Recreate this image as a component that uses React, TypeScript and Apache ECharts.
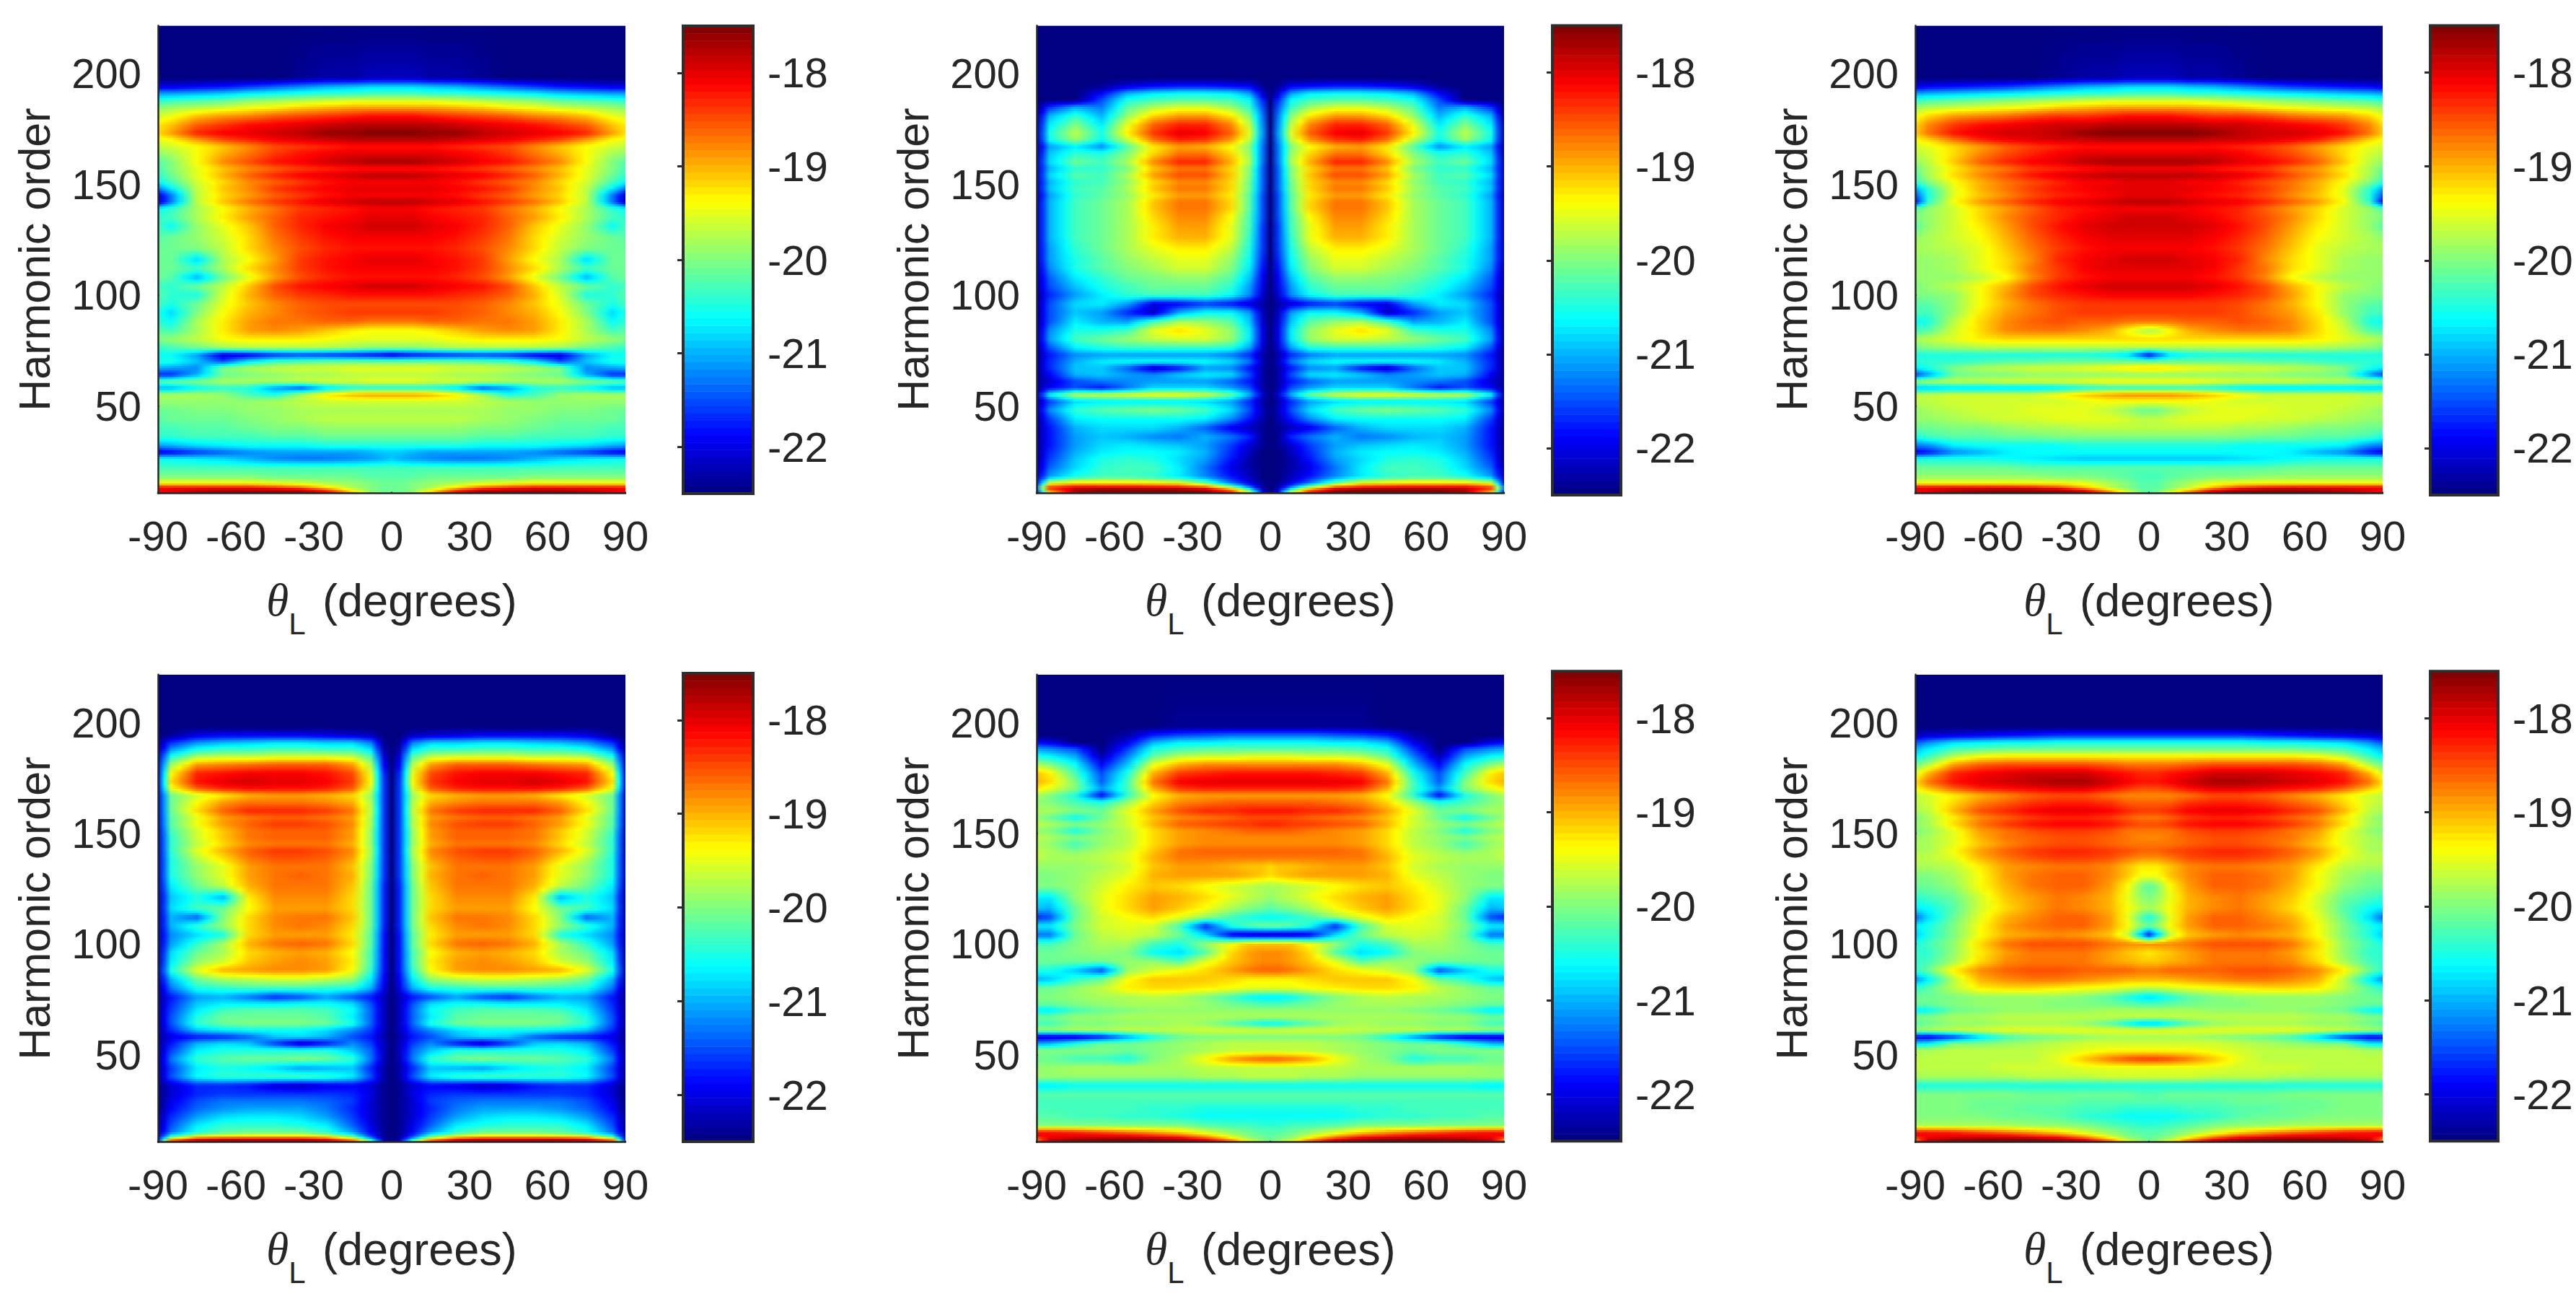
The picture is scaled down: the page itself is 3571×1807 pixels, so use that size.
import React, { useEffect, useRef } from "react";
import * as echarts from "echarts";

// Colour axis
const CMIN = -22.5;
const CMAX = -17.5;
const CB_TICKS = [-22, -21, -20, -19, -18];
const Y_TICKS = [50, 100, 150, 200];
const Y_MIN = 10.5;
const Y_MAX = 221.6;
// Half-plane angles (degrees) of each column; the maps are mirrored about 0
const THETAS = [0, 3, 8, 15, 25, 35, 45, 55, 65, 75, 85, 90];
const ORDERS = [221.6,198,194,191,188,185,181,177,173,170,167,164,160,157,154,151,148,145,142,139,135,131,126,121,116,112,108,104,100,96,92,88,84,80,76,73,70,67,64,61,58,55,52,48,44,40,36,32,29,26,22,18,15,13,12,10.5];
// Cell values: tenths above CMIN, one row per order, one column per angle
const PANEL_A = [
[0,0,0,0,0,0,0,0,0,0,0,0],[3,3,3,2,2,1,0,0,0,0,0,0],[17,17,17,16,15,13,11,9,7,6,5,5],[22,22,22,21,21,20,19,18,16,15,14,14],[29,29,29,29,28,27,26,25,23,22,21,20],[35,35,35,35,34,33,31,30,28,27,26,25],[43,43,43,42,41,40,39,37,36,34,30,29],[47,47,47,47,46,45,44,43,41,39,34,32],[50,50,50,49,49,47,46,45,44,42,36,33],[47,47,47,47,46,45,44,42,40,36,31,30],[43,43,43,43,42,41,40,37,34,31,29,28],[45,45,45,45,44,43,41,38,35,31,27,26],[48,48,48,47,46,44,43,40,37,31,25,23],[43,43,43,43,42,41,39,37,34,30,25,22],[47,47,47,46,45,44,42,39,35,30,24,21],[44,44,44,44,43,41,39,37,33,29,22,19],[45,45,45,45,44,43,41,37,34,28,18,12],[44,44,44,44,43,41,39,36,33,28,12,4],[47,47,47,46,45,43,41,38,34,28,12,3],[44,44,44,43,42,41,38,35,31,27,21,19],[45,45,45,44,43,42,39,36,32,27,22,21],[46,46,46,45,44,42,39,34,30,26,19,22],[44,44,44,44,43,41,38,33,29,26,24,23],[43,43,43,43,42,40,37,33,28,25,24,24],[45,45,45,44,43,41,36,31,27,17,24,24],[44,44,44,44,43,41,37,33,27,22,24,24],[43,43,43,43,42,40,36,30,24,15,23,24],[46,46,46,45,44,43,40,34,28,24,21,22],[43,43,43,43,42,41,39,35,29,20,21,23],[40,40,40,40,40,39,37,34,30,24,20,22],[41,41,41,41,40,39,37,35,31,25,17,20],[38,38,38,39,39,38,38,36,32,27,19,21],[31,31,31,32,34,36,37,36,32,27,22,23],[30,30,30,30,31,32,32,32,31,28,26,25],[25,25,25,26,27,27,27,27,26,24,22,21],[4,5,6,7,8,9,8,5,4,14,19,19],[24,24,24,24,24,23,22,18,10,16,20,20],[30,30,30,30,29,29,28,27,25,13,14,15],[28,28,28,28,27,27,26,25,24,15,8,8],[30,30,30,29,29,28,27,27,27,25,24,23],[20,20,20,20,17,10,14,20,21,19,15,15],[36,36,36,35,32,27,20,22,26,27,27,27],[29,29,29,29,29,28,27,26,26,26,26,26],[27,27,27,27,27,27,26,26,25,25,24,24],[28,28,28,28,28,27,26,25,24,24,24,23],[26,26,26,26,26,25,25,24,23,23,22,22],[24,24,24,24,24,23,23,22,22,22,21,21],[20,20,20,20,20,19,19,19,18,17,15,14],[16,16,15,14,14,14,14,13,11,9,6,5],[16,15,14,13,12,12,13,15,17,18,19,19],[22,22,22,22,22,22,22,22,22,22,22,22],[23,23,23,24,24,24,24,25,25,25,25,25],[24,24,25,26,27,29,30,31,31,31,31,31],[24,24,25,27,33,39,42,44,44,44,44,44],[24,24,25,30,40,46,47,47,47,46,45,44],[24,24,26,36,47,50,50,50,50,49,45,44],
];
const PANEL_B = [
[0,0,0,0,0,0,0,0,0,0,0,0],[0,0,0,0,0,0,0,0,0,0,0,0],[0,1,6,7,8,8,7,5,1,0,0,0],[0,4,14,18,19,19,18,15,6,0,0,0],[0,8,19,22,23,23,22,20,10,0,0,0],[0,10,21,26,29,29,27,23,12,14,8,0],[0,12,25,32,36,36,33,26,15,21,15,1],[0,13,28,37,42,42,39,30,18,25,18,2],[0,14,30,39,44,45,41,32,20,28,20,2],[0,13,28,36,41,42,38,28,19,26,19,2],[0,12,25,31,35,36,32,23,13,18,14,1],[0,12,26,33,38,38,33,25,20,21,16,2],[0,12,27,35,42,42,37,27,22,24,17,3],[0,11,25,33,38,38,34,25,21,21,15,3],[0,11,25,34,40,40,36,27,22,23,17,3],[0,11,24,33,37,37,33,26,22,21,15,3],[0,11,24,33,38,38,34,27,23,22,16,3],[0,10,23,32,36,36,32,26,23,21,14,2],[0,10,23,33,38,38,34,27,24,22,15,3],[0,10,23,33,38,38,34,27,24,22,15,3],[0,10,22,31,37,37,33,27,24,22,15,3],[0,9,22,30,36,36,32,27,24,22,15,3],[0,9,21,30,35,35,32,27,24,22,15,3],[0,9,20,28,32,32,30,27,24,21,14,3],[0,8,19,26,30,30,28,26,23,20,14,3],[0,7,18,25,29,29,27,25,23,20,13,2],[0,6,16,23,26,26,25,24,21,18,11,2],[0,5,14,21,24,24,24,22,20,16,10,2],[0,4,13,19,22,22,22,21,18,14,8,1],[0,2,4,7,9,6,5,14,18,17,10,1],[0,3,14,19,19,15,3,8,14,16,10,1],[0,4,16,23,26,27,22,14,15,18,10,1],[0,5,18,26,30,33,30,22,20,20,13,1],[0,5,18,26,29,29,28,26,24,22,14,1],[0,4,14,20,21,21,21,21,20,18,10,1],[0,2,8,12,14,14,14,14,14,13,7,1],[0,3,12,17,19,19,19,19,18,15,8,1],[0,2,7,13,14,7,3,11,16,16,8,1],[0,2,10,17,18,16,13,14,16,15,6,1],[0,2,7,11,14,14,14,13,12,10,4,1],[0,2,10,14,17,17,17,12,7,10,6,1],[0,4,15,24,29,31,31,30,29,28,19,2],[0,2,8,14,17,18,18,18,18,17,9,1],[0,3,10,17,22,24,25,24,23,21,13,2],[0,2,7,13,18,19,19,19,19,18,9,1],[0,1,3,5,11,15,17,17,17,15,7,1],[0,1,8,12,15,12,13,15,16,14,7,1],[0,1,4,9,14,16,17,18,17,14,7,1],[0,0,3,8,15,18,19,19,18,15,8,1],[0,0,2,7,14,17,20,21,20,16,9,1],[0,0,2,5,12,18,22,22,21,17,11,2],[0,0,3,7,13,18,21,22,22,20,14,3],[0,1,5,12,24,31,32,33,33,33,30,6],[0,2,14,29,42,45,46,46,46,46,42,14],[0,3,22,38,48,50,50,50,50,48,38,10],[0,7,30,44,50,50,50,50,50,48,32,6],
];
const PANEL_C = [
[0,0,0,0,0,0,0,0,0,0,0,0],[3,3,3,2,2,1,0,0,0,0,0,0],[17,17,17,16,15,13,11,9,8,7,6,5],[22,22,22,21,21,20,19,18,17,16,15,14],[29,29,29,29,28,27,26,25,24,23,22,21],[35,35,35,35,34,33,31,30,29,28,27,26],[43,43,43,42,41,41,40,38,37,36,33,30],[47,47,47,47,46,46,45,44,43,41,37,33],[50,50,50,50,49,47,46,46,45,43,38,34],[47,47,47,47,46,46,45,44,42,38,33,31],[43,43,43,43,43,42,41,39,36,33,30,29],[45,45,45,45,45,44,42,40,37,33,29,28],[48,48,48,48,47,45,44,42,39,34,28,26],[44,44,44,44,43,42,41,38,36,32,27,24],[47,47,47,47,46,45,43,40,37,33,27,23],[45,45,45,44,44,42,40,38,35,31,25,21],[45,45,45,45,44,43,41,38,35,30,21,14],[45,45,45,44,43,42,40,37,34,30,20,10],[47,47,47,46,45,44,42,39,36,31,21,6],[44,44,44,44,43,42,39,36,33,29,26,23],[46,46,46,45,44,42,40,37,33,29,26,25],[46,46,46,46,45,43,40,36,32,29,26,23],[45,45,45,45,44,42,39,35,31,29,27,26],[44,44,44,44,43,41,38,34,30,28,27,27],[46,46,46,45,44,42,37,33,30,27,26,26],[45,45,45,45,44,41,38,33,30,27,26,26],[44,44,44,44,43,41,37,31,28,26,26,26],[46,46,46,46,45,43,40,35,31,28,26,25],[44,44,44,44,43,42,40,36,31,26,25,25],[41,41,41,41,41,40,38,35,31,26,23,23],[41,41,41,41,41,40,38,36,32,26,22,22],[38,38,38,39,39,40,39,37,33,28,20,19],[27,28,31,35,37,38,38,37,33,29,23,22],[33,33,33,33,33,33,33,33,32,30,28,27],[27,27,27,27,27,27,27,27,27,26,25,24],[6,10,17,19,20,20,20,20,20,20,20,20],[24,24,24,24,24,24,23,23,22,21,21,21],[33,33,32,31,30,29,29,28,27,25,20,18],[26,26,26,26,26,26,26,25,25,24,14,9],[31,31,31,31,30,29,29,29,28,28,27,26],[21,21,21,21,20,18,17,17,17,17,16,16],[37,37,37,36,34,31,29,29,29,29,28,28],[31,31,31,31,30,29,29,29,29,29,28,28],[24,24,26,28,30,30,30,29,29,28,27,26],[28,28,29,30,30,30,29,29,28,27,26,26],[28,28,28,28,28,27,27,26,25,25,24,24],[25,25,25,25,25,25,24,24,23,23,22,20],[20,20,20,20,20,19,19,19,19,18,13,12],[19,19,19,19,19,19,19,18,15,13,7,5],[16,16,16,16,16,17,18,19,20,20,20,20],[23,23,23,23,23,23,23,24,24,24,24,24],[22,22,23,24,25,25,26,26,26,26,26,26],[23,23,25,27,30,31,31,31,31,31,31,31],[23,23,25,28,35,41,44,45,45,45,45,45],[23,24,27,33,43,48,49,49,48,47,45,44],[23,24,30,40,49,50,50,50,50,49,46,44],
];
const PANEL_D = [
[0,0,0,0,0,0,0,0,0,0,0,0],[0,0,0,0,0,0,0,0,0,0,0,0],[0,0,3,4,5,6,6,6,6,5,1,0],[0,1,12,16,16,17,17,16,15,13,8,0],[0,2,17,21,21,22,22,21,21,19,13,1],[0,4,22,27,28,28,28,27,27,26,19,3],[0,6,27,36,39,39,39,38,37,36,26,4],[0,8,30,40,43,44,44,44,43,42,31,5],[0,9,31,41,44,45,45,46,45,43,33,6],[0,9,29,39,42,43,43,43,42,39,30,5],[0,9,26,33,35,36,36,35,32,29,24,4],[0,9,27,35,37,38,38,38,36,31,24,4],[0,9,28,38,41,42,42,42,39,33,24,4],[0,9,27,36,38,39,39,38,36,30,23,4],[0,9,27,37,40,41,41,39,36,31,23,4],[0,9,26,36,39,39,39,38,34,29,22,3],[0,9,26,36,39,39,39,38,34,29,21,3],[0,9,26,35,38,38,38,37,33,28,21,3],[0,9,27,37,40,41,41,39,35,30,21,3],[0,9,26,36,39,40,40,38,33,28,20,3],[0,9,25,34,38,38,38,36,30,26,20,3],[0,9,25,35,38,39,38,36,30,26,20,3],[0,8,24,34,38,38,38,35,28,24,18,3],[0,8,24,33,37,37,37,32,15,20,16,2],[0,8,24,33,36,36,36,31,24,22,17,2],[0,8,24,34,38,38,37,33,25,11,15,2],[0,8,24,33,37,38,37,33,26,21,15,2],[0,7,23,32,36,36,36,33,20,17,13,2],[0,7,23,33,38,39,38,35,27,21,14,2],[0,7,22,31,35,36,35,33,27,24,17,2],[0,7,22,32,36,37,36,34,29,26,18,2],[0,7,21,31,36,37,37,36,35,30,20,3],[0,6,18,26,28,29,29,28,27,24,15,2],[0,5,15,20,21,22,22,22,21,20,12,1],[0,3,7,10,14,10,8,12,15,14,7,1],[0,3,10,17,19,19,18,18,18,16,8,1],[0,3,11,19,22,23,23,23,22,18,9,1],[0,3,11,18,23,24,24,24,24,20,10,1],[0,3,11,20,24,25,25,25,24,21,10,1],[0,3,9,13,17,19,19,19,18,16,8,1],[0,2,7,10,15,17,16,11,8,7,5,1],[0,3,9,13,7,3,9,16,17,15,7,1],[0,3,11,16,20,20,20,20,20,18,9,1],[0,3,12,21,24,25,24,24,23,21,12,1],[0,2,8,16,15,14,17,19,20,18,9,1],[0,2,10,18,21,22,22,21,21,19,10,1],[0,1,4,6,5,3,4,7,8,8,4,0],[0,1,5,8,9,9,9,9,9,8,4,0],[0,1,4,9,11,12,12,12,12,10,5,0],[0,1,4,8,12,14,14,14,13,11,6,0],[0,1,4,9,14,17,18,18,17,14,8,1],[0,1,5,11,18,20,21,21,21,18,10,1],[0,1,6,14,21,24,24,24,23,20,12,2],[0,1,9,23,30,33,33,33,32,30,20,3],[0,2,16,33,42,45,45,45,45,43,33,6],[0,3,27,44,50,50,50,50,50,50,45,10],
];
const PANEL_E = [
[0,0,0,0,0,0,0,0,0,0,0,0],[1,1,1,1,1,1,0,0,0,0,0,0],[12,12,12,12,11,10,8,2,0,0,0,0],[19,19,19,19,18,18,15,5,0,0,5,6],[23,23,23,23,23,22,20,9,0,10,13,14],[29,29,29,28,28,27,23,12,2,14,18,19],[37,37,37,37,37,35,30,16,6,19,25,27],[43,43,43,43,42,41,35,20,10,22,32,34],[45,45,45,45,45,44,38,22,11,25,33,35],[42,42,42,42,42,41,35,22,14,25,30,32],[36,36,36,36,36,35,31,21,6,20,25,27],[39,39,39,39,38,37,33,26,20,22,25,26],[43,43,43,42,42,40,36,30,24,25,27,27],[40,40,40,39,38,37,34,29,24,19,24,26],[42,42,41,41,40,39,35,29,26,25,27,28],[39,39,39,38,37,36,33,28,25,20,25,26],[37,37,37,37,37,36,33,28,26,25,27,28],[37,37,37,37,37,36,33,28,26,22,26,27],[39,39,39,39,39,38,34,29,27,25,27,28],[38,38,38,38,38,38,35,30,28,27,27,28],[33,34,34,35,36,36,34,29,27,26,26,26],[33,34,35,36,36,36,35,30,28,26,25,25],[27,27,28,29,31,33,34,32,29,26,25,25],[26,27,28,30,33,35,36,33,30,26,18,18],[23,24,25,27,31,34,36,33,30,24,15,16],[19,19,20,22,26,30,33,31,29,24,10,8],[24,24,23,20,8,22,29,30,29,25,18,18],[3,3,3,5,17,24,28,29,28,24,12,12],[34,34,34,31,26,20,22,27,27,25,22,22],[37,37,36,33,23,17,19,25,26,25,24,24],[37,37,36,34,30,23,26,26,24,24,24,24],[39,39,38,36,33,31,29,26,10,16,20,20],[32,32,32,33,34,34,34,31,24,21,16,15],[30,30,30,31,32,33,33,32,28,26,24,24],[18,18,19,22,25,27,28,27,27,26,25,25],[22,22,23,24,26,27,27,27,26,25,24,24],[26,26,26,26,26,26,26,25,24,22,18,18],[27,27,27,27,27,27,27,27,26,26,24,24],[19,19,21,23,26,27,26,26,25,25,22,22],[29,29,29,29,29,28,28,28,27,27,26,26],[25,25,25,25,25,24,20,14,7,4,4,4],[28,28,28,28,27,26,25,24,24,20,15,14],[28,28,28,28,27,26,25,24,25,25,25,25],[39,39,38,36,31,27,25,20,22,22,24,24],[28,28,28,28,28,27,27,27,27,27,26,26],[28,28,28,27,27,26,26,26,26,26,26,26],[19,19,19,19,19,19,19,19,19,19,18,18],[23,23,23,23,23,23,23,23,23,23,23,23],[22,22,22,22,22,22,22,22,22,22,22,22],[20,20,20,20,20,21,21,22,22,22,22,22],[19,19,19,19,19,20,21,21,22,22,23,23],[21,21,22,22,23,25,25,25,25,25,25,25],[23,23,24,26,29,33,36,38,40,42,43,43],[23,24,25,29,36,41,43,45,45,45,44,44],[24,25,27,34,42,47,49,49,49,48,46,37],[24,26,31,41,50,50,50,50,50,50,48,40],
];
const PANEL_F = [
[0,0,0,0,0,0,0,0,0,0,0,0],[0,0,0,0,0,0,0,0,0,0,0,0],[9,9,9,9,9,9,8,7,6,5,4,3],[20,20,20,20,20,20,19,19,18,17,13,10],[24,24,24,24,24,24,24,24,23,22,18,15],[31,31,31,31,31,31,31,31,30,27,21,18],[38,38,38,39,40,40,40,40,39,36,27,24],[42,42,43,44,46,46,46,45,44,42,35,29],[43,43,44,46,48,48,47,46,45,43,38,33],[40,40,41,43,45,45,44,43,42,39,34,31],[37,37,37,38,40,40,39,37,35,32,29,28],[39,39,39,41,42,42,41,39,37,33,29,28],[41,41,42,44,45,45,44,42,40,35,28,27],[38,38,39,41,42,42,41,39,37,32,27,25],[40,40,41,43,44,44,43,41,38,33,27,26],[38,38,38,40,41,41,40,38,36,30,26,25],[37,37,38,39,40,40,39,38,35,30,27,26],[38,38,38,39,40,40,39,37,34,30,27,27],[39,39,40,41,42,42,41,39,36,31,27,27],[37,37,38,40,41,41,40,38,35,30,28,28],[32,32,34,37,38,38,37,36,32,28,27,27],[31,31,34,37,39,39,38,36,31,27,25,25],[23,25,31,36,39,39,38,35,31,26,24,24],[25,26,30,35,37,38,36,34,29,24,22,21],[27,28,31,35,37,38,36,33,29,23,19,18],[20,23,30,36,39,39,37,35,30,24,17,11],[24,26,31,36,39,39,38,36,31,25,20,18],[7,15,28,34,36,37,36,35,31,25,20,16],[37,37,37,38,40,40,40,38,33,26,22,20],[32,33,34,36,38,38,38,36,32,26,21,21],[34,34,35,36,38,38,38,37,33,27,22,21],[38,38,39,39,39,40,40,39,37,32,24,21],[35,35,35,36,37,38,38,37,35,28,18,13],[28,28,29,30,31,32,33,33,32,28,23,21],[17,18,20,23,25,26,26,26,26,25,24,24],[22,22,23,24,25,25,26,26,26,25,24,24],[27,27,27,27,26,26,26,26,25,24,19,18],[28,28,28,28,28,28,28,28,27,27,25,25],[16,16,19,23,26,27,27,27,26,26,24,23],[30,30,30,30,30,30,30,30,29,28,27,26],[27,27,27,27,26,25,24,22,17,9,5,6],[29,29,29,29,29,28,27,26,25,25,18,17],[31,31,31,31,30,29,28,28,28,28,27,27],[41,41,40,38,34,30,28,28,28,28,28,28],[30,30,30,30,30,29,29,29,28,28,28,28],[29,29,29,29,28,28,28,27,27,27,27,27],[20,20,20,20,20,20,20,20,20,20,20,20],[23,23,24,24,24,24,24,25,25,25,25,25],[23,23,23,23,23,24,24,24,24,25,25,25],[21,21,21,22,22,23,23,24,24,25,25,25],[19,19,19,20,21,23,24,24,25,25,25,25],[21,21,22,23,25,26,26,27,27,27,27,27],[23,23,24,26,29,33,36,38,40,42,43,43],[23,24,25,29,36,41,43,45,45,45,44,44],[24,25,27,34,42,47,49,49,49,48,46,37],[24,26,31,41,50,50,50,50,50,50,48,40],
];

const INK = "#262626";
const FONT = "Liberation Sans";
const PANELS = [PANEL_A, PANEL_B, PANEL_C, PANEL_D, PANEL_E, PANEL_F];
const PLOT_LEFT = [219, 1437, 2655, 219, 1437, 2655];
const PLOT_TOP = [35.6, 35.6, 35.6, 934.7, 934.7, 934.7];
const PLOT_W = 648;
const PLOT_H = 648;
const BAR_LEFT = [947, 2152, 3369, 947, 2152, 3369];
const BAR_W = [97, 95, 94, 97, 95, 94];
const BAR_TOP = [36, 35.5, 35.5, 933, 930.3, 930.3];
const BAR_H = [648, 650.5, 650.5, 649, 651, 651];
const BAR_LEVELS = Array.from({ length: 64 }, (_, k) => k);

function jet(t: number) {
  const c = (x: number) => Math.round(255 * Math.max(0, Math.min(1, x)));
  const tt = Math.max(0, Math.min(1, t));
  return `rgb(${c(1.5 - Math.abs(4 * tt - 3))},${c(1.5 - Math.abs(4 * tt - 2))},${c(1.5 - Math.abs(4 * tt - 1))})`;
}
const levelToT = (l: number) => l / 50;

const SUB = [1, 2, 2, 3, 3, 3, 3, 3, 3, 3, 2];
function bandStops(a: number[], b: number[], s: number) {
  const half: { th: number; color: string }[] = [];
  for (let j = 0; j < THETAS.length - 1; j++) {
    const va = a[j] * (1 - s) + b[j] * s;
    const vb = a[j + 1] * (1 - s) + b[j + 1] * s;
    for (let m = 0; m < SUB[j]; m++) {
      const f = m / SUB[j];
      half.push({ th: THETAS[j] + (THETAS[j + 1] - THETAS[j]) * f, color: jet(levelToT(va + (vb - va) * f)) });
    }
  }
  const last = THETAS.length - 1;
  half.push({ th: THETAS[last], color: jet(levelToT(a[last] * (1 - s) + b[last] * s)) });
  const stops: { offset: number; color: string }[] = [];
  for (let i = half.length - 1; i > 0; i--) stops.push({ offset: (90 - half[i].th) / 180, color: half[i].color });
  for (let i = 0; i < half.length; i++) stops.push({ offset: (90 + half[i].th) / 180, color: half[i].color });
  return stops;
}

function mapRenderer(panel: number[][]) {
  return (_p: any, api: any) => {
    const i = api.value(2);
    const xL = api.coord([-90, ORDERS[i]])[0];
    const xR = api.coord([90, ORDERS[i]])[0];
    const yT = api.coord([0, ORDERS[i]])[1];
    const yB = api.coord([0, ORDERS[i + 1]])[1];
    const same = panel[i].every((v, k) => v === panel[i + 1][k]);
    const n = same ? 1 : Math.max(1, Math.round((yB - yT) / 3));
    const children: any[] = [];
    for (let k = 0; k < n; k++) {
      const top = yT + ((yB - yT) * k) / n;
      const overlap = i === ORDERS.length - 2 && k === n - 1 ? 0 : 0.8;
      children.push({
        type: "rect",
        shape: { x: xL, y: top, width: xR - xL, height: (yB - yT) / n + overlap },
        style: { fill: { type: "linear", x: 0, y: 0, x2: 1, y2: 0, colorStops: bandStops(panel[i], panel[i + 1], (k + 0.5) / n) } },
      });
    }
    return { type: "group", children };
  };
}

function barRenderer(_p: any, api: any) {
  const k = api.value(0);
  const span = (CMAX - CMIN) / 64;
  const lo = CMIN + k * span;
  const a = api.coord([0, lo + span]);
  const b = api.coord([1, lo]);
  return {
    type: "rect",
    shape: { x: a[0], y: a[1], width: b[0] - a[0], height: b[1] - a[1] + (k === 0 ? 0 : 0.6) },
    style: { fill: jet((k + 0.5) / 64) },
  };
}

function buildOption() {
  const grid: any[] = [];
  const xAxis: any[] = [];
  const yAxis: any[] = [];
  const series: any[] = [];
  PANELS.forEach((panel, p) => {
    const g = 2 * p;
    grid.push({ left: PLOT_LEFT[p], top: PLOT_TOP[p], width: PLOT_W, height: PLOT_H, show: false });
    grid.push({
      left: BAR_LEFT[p], top: BAR_TOP[p], width: BAR_W[p], height: BAR_H[p], show: true, z: 5,
      backgroundColor: "transparent", borderColor: "#2d2d2d", borderWidth: 4,
    });
    xAxis.push({
      gridIndex: g, type: "value", min: -90, max: 90, interval: 30, z: 6, splitLine: { show: false },
      axisLine: { show: true, onZero: false, lineStyle: { color: INK, width: 2.5 } },
      axisTick: { show: true, inside: true, length: 2, lineStyle: { color: INK, width: 2 } },
      axisLabel: { color: INK, fontFamily: FONT, fontSize: 58, margin: 30, showMinLabel: true, showMaxLabel: true },
      name: "{t|θ}{l|L}{d| (degrees)}", nameLocation: "middle", nameGap: 94,
      nameTextStyle: {
        color: INK, fontFamily: FONT, fontSize: 63,
        rich: {
          t: { fontFamily: "Liberation Serif", fontStyle: "italic", fontSize: 63, color: INK },
          l: { fontFamily: FONT, fontSize: 42, color: INK, verticalAlign: "bottom", padding: [66, 6, 0, 0] },
          d: { fontFamily: FONT, fontSize: 63, color: INK },
        },
      },
    });
    yAxis.push({
      gridIndex: g, type: "value", min: Y_MIN, max: Y_MAX, z: 6, splitLine: { show: false },
      axisLine: { show: true, onZero: false, lineStyle: { color: INK, width: 2.5 } },
      axisTick: { show: true, inside: true, length: 2, lineStyle: { color: INK, width: 2 }, customValues: Y_TICKS },
      axisLabel: { color: INK, fontFamily: FONT, fontSize: 58, margin: 23, customValues: Y_TICKS },
      name: "Harmonic order", nameLocation: "middle", nameRotate: 90, nameGap: 141,
      nameTextStyle: { color: INK, fontFamily: FONT, fontSize: 61 },
    });
    xAxis.push({ gridIndex: g + 1, type: "value", min: 0, max: 1, show: false });
    yAxis.push({
      gridIndex: g + 1, type: "value", position: "right", min: CMIN, max: CMAX, z: 6, splitLine: { show: false },
      axisLine: { show: false },
      axisTick: { show: true, inside: true, length: 8, lineStyle: { color: "#2d2d2d", width: 3 }, customValues: CB_TICKS },
      axisLabel: { color: INK, fontFamily: FONT, fontSize: 58, margin: 20, customValues: CB_TICKS },
    });
    series.push({
      type: "custom", coordinateSystem: "cartesian2d", xAxisIndex: g, yAxisIndex: g, silent: true, clip: true,
      encode: { x: 0, y: 1 },
      data: ORDERS.slice(0, -1).map((h, i) => [0, h, i]),
      renderItem: mapRenderer(panel),
    });
    series.push({
      type: "custom", coordinateSystem: "cartesian2d", xAxisIndex: g + 1, yAxisIndex: g + 1, silent: true,
      encode: { y: 0 },
      data: BAR_LEVELS.map((k) => [k]),
      renderItem: barRenderer,
    });
  });
  return { animation: false, backgroundColor: "#ffffff", grid, xAxis, yAxis, series };
}

export default function App() {
  const ref = useRef<HTMLDivElement>(null);
  useEffect(() => {
    const chart = echarts.init(ref.current!, null, { renderer: "svg", width: 3571, height: 1807 });
    chart.setOption(buildOption() as any);
    return () => chart.dispose();
  }, []);
  return <div ref={ref} style={{ position: "absolute", left: 0, top: 0, width: 3571, height: 1807, background: "#fff" }} />;
}
